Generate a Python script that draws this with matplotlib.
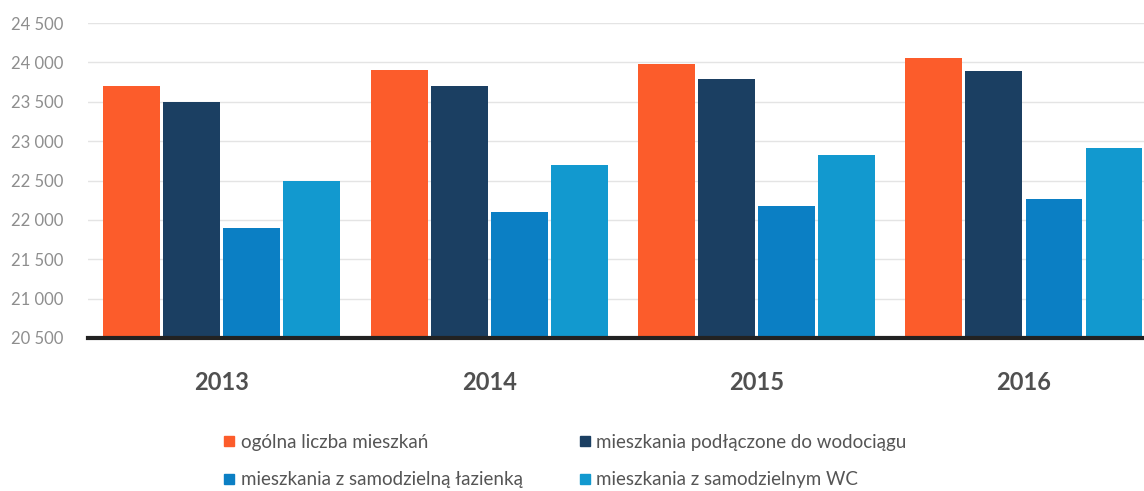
import numpy as np
import matplotlib
matplotlib.use("Agg")
import matplotlib.pyplot as plt
from matplotlib.lines import Line2D

plt.rcParams["font.family"] = ["Lato", "DejaVu Sans"]

years = ["2013", "2014", "2015", "2016"]
series_names = [
    "ogólna liczba mieszkań",
    "mieszkania podłączone do wodociągu",
    "mieszkania z samodzielną łazienką",
    "mieszkania z samodzielnym WC",
]
ogolna = [23700, 23900, 23980, 24060]
wodociag = [23500, 23700, 23790, 23890]
lazienka = [21900, 22100, 22180, 22270]
wc = [22500, 22700, 22820, 22910]
yticks = [20500, 21000, 21500, 22000, 22500, 23000, 23500, 24000, 24500]

colors = ["#FC5C2B", "#1B3F62", "#0B7FC4", "#1299CF"]
values = [ogolna, wodociag, lazienka, wc]

fig = plt.figure(figsize=(11.44, 4.91), dpi=100)
ax = fig.add_axes([88 / 1144, 1 - 338 / 491, 1 - 88 / 1144, (338 - 23) / 491])

x = np.arange(len(years))
width = 0.213
step = 0.2245
for i, (vals, c) in enumerate(zip(values, colors)):
    pos = x + (i - 1.5) * step
    ax.bar(pos, np.array(vals) - 20500, width=width, bottom=20500, color=c, zorder=3)

ax.set_xlim(-0.501, 3.449)
ax.set_ylim(20500, 24500)
ax.set_yticks(yticks)
ax.set_yticklabels([f"{v:,}".replace(",", " ") for v in yticks], color="#8e8e8e", fontsize=12)
ax.set_xticks(x)
ax.set_xticklabels(years, fontsize=17, fontweight="bold", color="#505050")
ax.tick_params(axis="y", length=0, pad=18)
ax.tick_params(axis="x", length=0, pad=24)
ax.grid(axis="y", color="#e4e4e4", linewidth=1, zorder=0)
for s in ["top", "right", "left"]:
    ax.spines[s].set_visible(False)
ax.spines["bottom"].set_color("#222222")
ax.spines["bottom"].set_linewidth(3)
ax.spines["bottom"].set_zorder(4)

handles = [Line2D([], [], marker="s", linestyle="none", markersize=7, color=c) for c in colors]
order = [0, 2, 1, 3]
fig.legend([handles[i] for i in order], [series_names[i] for i in order],
           ncol=2, loc="center left", bbox_to_anchor=(205 / 1144, 1 - 461 / 491),
           frameon=False, fontsize=13.5, labelcolor="#555555",
           handletextpad=0.2, handlelength=0.8, columnspacing=2.9, labelspacing=1.1)

fig.savefig("out.png", dpi=100)
